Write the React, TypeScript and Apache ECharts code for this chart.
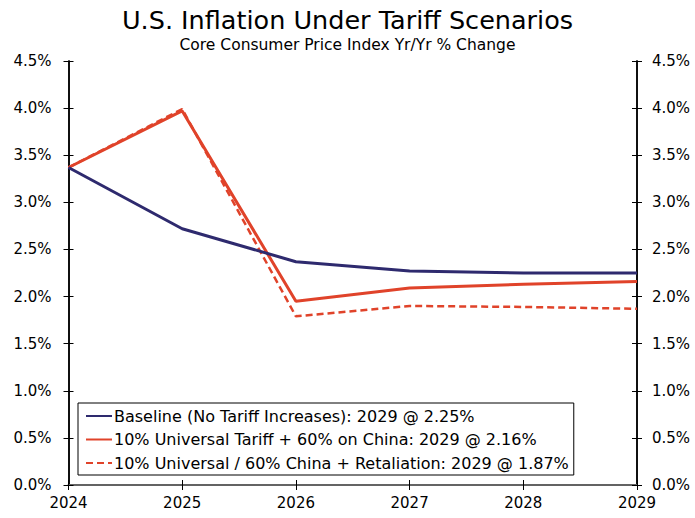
import React, { useEffect, useRef } from "react";
import * as echarts from "echarts";

const years = ["2024", "2025", "2026", "2027", "2028", "2029"];
const baseline = [3.37, 2.72, 2.37, 2.27, 2.25, 2.25];
const tariff = [3.37, 3.97, 1.95, 2.09, 2.13, 2.16];
const retaliation = [3.37, 3.99, 1.79, 1.90, 1.89, 1.87];
const names = [
  "Baseline (No Tariff Increases): 2029 @ 2.25%",
  "10% Universal Tariff + 60% on China: 2029 @ 2.16%",
  "10% Universal / 60% China + Retaliation: 2029 @ 1.87%",
];

const FONT = "DejaVu Sans";
const NAVY = "#2E2A6E";
const RED = "#E0432A";

export default function App() {
  const ref = useRef<HTMLDivElement>(null);
  useEffect(() => {
    const chart = echarts.init(ref.current!, undefined, { renderer: "svg" });
    const yBase = {
      type: "value",
      min: 0,
      max: 4.5,
      interval: 0.5,
      splitLine: { show: false },
      axisLine: { show: true, lineStyle: { color: "#000", width: 1.5 } },
    };
    const yLabel = (margin: number) => ({
      show: true,
      color: "#000",
      fontFamily: FONT,
      fontSize: 15,
      margin,
      formatter: (v: number) => v.toFixed(1) + "%",
    });
    const xBase = {
      type: "category",
      data: years,
      boundaryGap: false,
      splitLine: { show: false },
      axisLine: { show: true, lineStyle: { color: "#000", width: 1.5 } },
    };
    chart.setOption({
      animation: false,
      backgroundColor: "#fff",
      title: [
        {
          text: "U.S. Inflation Under Tariff Scenarios",
          left: "center",
          top: 2,
          textStyle: { fontFamily: FONT, fontSize: 25.5, fontWeight: "normal", color: "#000" },
        },
        {
          text: "Core Consumer Price Index Yr/Yr % Change",
          left: "center",
          top: 32,
          textStyle: { fontFamily: FONT, fontSize: 15.5, fontWeight: "normal", color: "#000" },
        },
      ],
      grid: { left: 68.5, right: 58, top: 61, bottom: 33, containLabel: false },
      xAxis: [
        {
          ...xBase,
          position: "bottom",
          axisTick: { show: true, inside: false, length: 5, lineStyle: { color: "#000" } },
          axisLabel: { color: "#000", fontFamily: FONT, fontSize: 15, margin: 10 },
        },
        {
          ...xBase,
          position: "bottom",
          axisTick: { show: true, inside: true, length: 5, lineStyle: { color: "#000" } },
          axisLabel: { show: false },
        },
        {
          ...xBase,
          position: "top",
          axisLine: { show: true, lineStyle: { color: "#808080", width: 1.5 } },
          axisTick: { show: false },
          axisLabel: { show: false },
        },
      ],
      yAxis: [
        {
          ...yBase,
          position: "left",
          axisTick: { show: true, inside: false, length: 5, lineStyle: { color: "#000" } },
          axisLabel: yLabel(17),
        },
        {
          ...yBase,
          position: "left",
          axisTick: { show: true, inside: true, length: 5, lineStyle: { color: "#000" } },
          axisLabel: { show: false },
        },
        {
          ...yBase,
          position: "right",
          axisTick: { show: true, inside: false, length: 5, lineStyle: { color: "#000" } },
          axisLabel: yLabel(15),
        },
        {
          ...yBase,
          position: "right",
          axisTick: { show: true, inside: true, length: 5, lineStyle: { color: "#000" } },
          axisLabel: { show: false },
        },
      ],
      legend: {
        orient: "vertical",
        left: 78,
        top: 403,
        itemWidth: 26,
        itemHeight: 2,
        itemGap: 7.5,
        padding: [5, 5, 4, 7],
        borderColor: "#000",
        borderWidth: 1,
        backgroundColor: "#fff",
        itemStyle: { opacity: 0 },
        textStyle: { fontFamily: FONT, fontSize: 16, color: "#000", padding: [0, 0, 0, -3], lineHeight: 16 },
        data: names,
      },
      series: [
        {
          name: names[0],
          type: "line",
          data: baseline,
          symbol: "none",
          lineStyle: { color: NAVY, width: 3 },
          itemStyle: { color: NAVY },
          z: 3,
        },
        {
          name: names[1],
          type: "line",
          data: tariff,
          symbol: "none",
          lineStyle: { color: RED, width: 3 },
          itemStyle: { color: RED },
          z: 2,
        },
        {
          name: names[2],
          type: "line",
          data: retaliation,
          symbol: "none",
          lineStyle: { color: RED, width: 2.5, type: [7, 4] },
          itemStyle: { color: RED },
          z: 2,
        },
      ],
    });
    return () => chart.dispose();
  }, []);
  return <div ref={ref} style={{ width: 695, height: 518, position: "absolute", left: 0, top: 0 }} />;
}
